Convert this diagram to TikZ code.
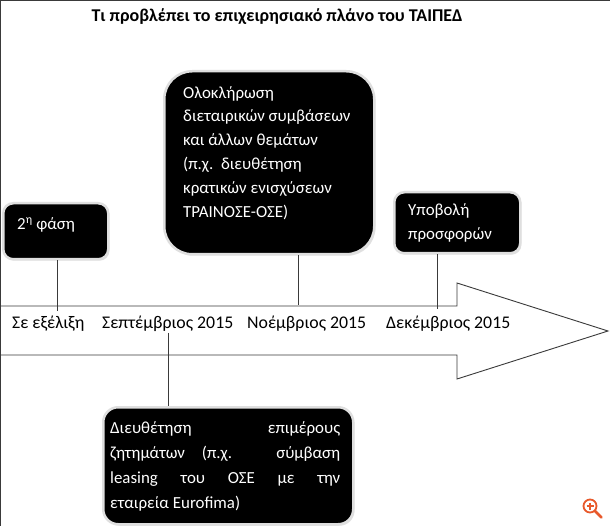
\documentclass[tikz,border=0pt]{standalone}
\usepackage{fontspec}
\setmainfont{Carlito}
\usetikzlibrary{shadows}
\definecolor{linegray}{HTML}{3A3A3A}
\definecolor{iconorange}{HTML}{E8592B}
\tikzset{
  box/.style={fill=black, draw=gray!25, line width=2.5pt, rounded corners=#1,
    drop shadow={shadow xshift=1.2pt, shadow yshift=-1.5pt, fill=gray!45},
    inner sep=0pt},
  box/.default=10pt,
  btext/.style={text=white, font=\fontsize{16.9}{23.8}\selectfont, inner sep=0pt, align=left, anchor=north west},
  dlabel/.style={text=black, font=\fontsize{17.8}{20}\selectfont, inner sep=0pt, anchor=base west},
  conn/.style={draw=linegray, line width=0.9pt},
  arrowline/.style={draw=linegray, line width=0.9pt, line join=miter}
}
\begin{document}
\begin{tikzpicture}[x=1pt,y=-1pt]
\useasboundingbox (0,0) rectangle (610,526);
\fill[white] (0,0) rectangle (610,526);
% frame
\draw[linegray, line width=1.3pt] (0.65,526) -- (0.65,0.65) -- (610,0.65);
% title
\node[font=\bfseries\fontsize{18}{20}\selectfont, inner sep=0pt] (title) at (277,17) {Τι προβλέπει το επιχειρησιακό πλάνο του ΤΑΙΠΕΔ};
% big arrow
\draw[arrowline] (0,306) -- (457,306) -- (457,283) -- (608,331) -- (457,379) -- (457,355) -- (0,355);
% boxes
\node[box=10pt, minimum width=105pt, minimum height=56pt, anchor=north west] (b1) at (2,202) {};
\node[box=28pt, minimum width=210pt, minimum height=183pt, anchor=north west] (b2) at (163,70) {};
\node[box=10pt, minimum width=126pt, minimum height=61pt, anchor=north west] (b3) at (393,191) {};
\node[box=15pt, minimum width=250pt, minimum height=117pt, anchor=north west] (b4) at (102,406) {};
% box texts
\node[btext] (t1) at (17,217.5) {2\textsuperscript{η} φάση};
\node[btext] (t2) at (183,86) {Ολοκλήρωση\\διεταιρικών συμβάσεων\\και άλλων θεμάτων\\(π.χ.\ \ διευθέτηση\\κρατικών ενισχύσεων\\ΤΡΑΙΝΟΣΕ-ΟΣΕ)};
\node[btext] (t3) at (408,203.5) {Υποβολή\\προσφορών};
\node[btext, font=\fontsize{16.9}{25}\selectfont] (t4) at (110,421) {\makebox[230pt][s]{Διευθέτηση επιμέρους}\\\makebox[230pt][s]{ζητημάτων (π.χ. σύμβαση}\\\makebox[230pt][s]{leasing του ΟΣΕ με την}\\εταιρεία Eurofima)};
% date labels
\node[dlabel] (l1) at (12,328.5) {Σε εξέλιξη};
\node[dlabel] (l2) at (102,328.5) {Σεπτέμβριος 2015};
\node[dlabel] (l3) at (247,328.5) {Νοέμβριος 2015};
\node[dlabel] (l4) at (386,328.5) {Δεκέμβριος 2015};
% connector ends
\coordinate (c1) at (57,311);
\coordinate (c2) at (298,305);
\coordinate (c3) at (437,309);
\coordinate (c4) at (168,333);
\draw[conn] (b1.south -| c1) -- (c1);
\draw[conn] (b2.south -| c2) -- (c2);
\draw[conn] (b3.south -| c3) -- (c3);
\draw[conn] (c4) -- (b4.north -| c4);
% zoom icon
\draw[iconorange, line width=1.8pt] (590,506) circle (6.5);
\draw[iconorange, line width=1.7pt] (586.5,506) -- (593.5,506) (590,502.5) -- (590,509.5);
\draw[iconorange, line width=2.6pt, line cap=round] (595,511) -- (601.5,517.5);
\end{tikzpicture}
\end{document}
